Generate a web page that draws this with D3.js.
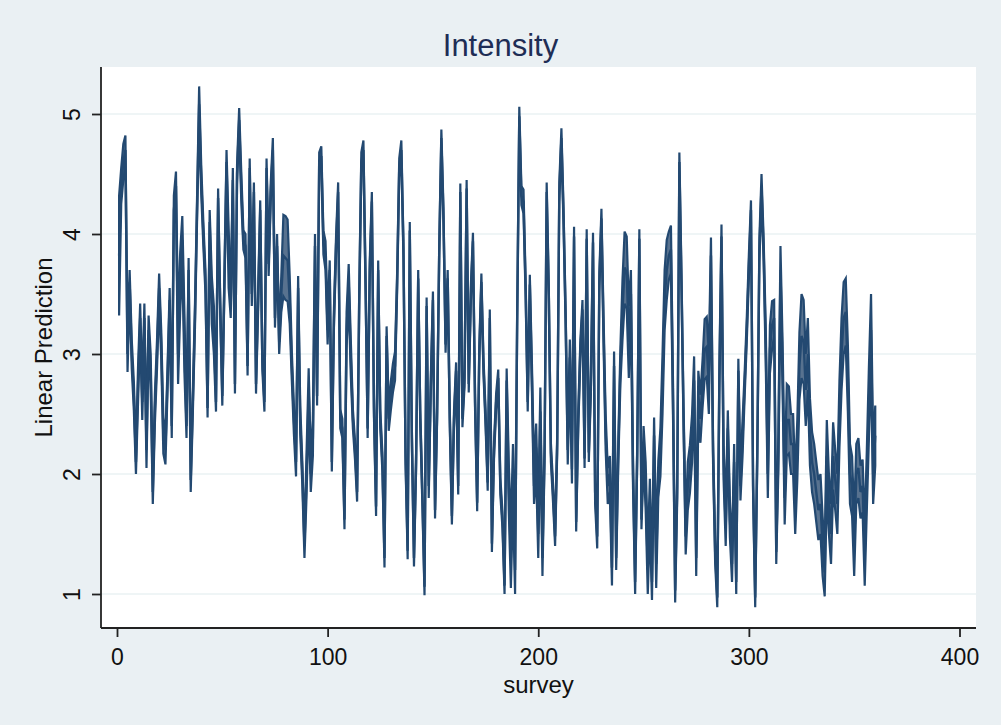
<!DOCTYPE html>
<html>
<head>
<meta charset="utf-8">
<script src="https://cdn.jsdelivr.net/npm/d3@7"></script>
<style>
  html, body { margin: 0; padding: 0; background: #eaf0f3; }
  svg { display: block; }
  text { font-family: "Liberation Sans", Arial, Helvetica, sans-serif; }
</style>
</head>
<body>
<svg id="chart" width="1001" height="725"></svg>
<script>
// ---- data ----
const chartTitle = "Intensity";
const xTitle = "survey";
const yTitle = "Linear Prediction";
const xTicks = [0, 100, 200, 300, 400];
const yTicks = [1, 2, 3, 4, 5];

// linear prediction for survey = 1 .. 360
const prediction = [
  3.82, 4.4, 4.6, 4.7, 3.0, 3.6, 3.0, 2.65, 2.1, 2.75,
  3.3, 2.6, 3.3, 2.2, 3.2, 2.85, 1.85, 2.55, 3.0, 3.55,
  3.08, 2.32, 2.2, 2.8, 3.45, 2.4, 4.2, 4.4, 3.0, 3.6,
  3.95, 3.1, 2.4, 3.7, 1.95, 2.6, 3.3, 4.2, 5.08, 4.45,
  4.0, 3.6, 2.55, 4.1, 3.45, 3.2, 2.6, 4.3, 3.4, 2.65,
  3.6, 4.6, 3.8, 3.4, 4.45, 2.75, 4.5, 4.95, 4.4, 3.95,
  3.9, 2.9, 4.55, 3.5, 4.35, 2.75, 3.45, 4.2, 2.95, 2.6,
  4.55, 3.75, 4.35, 4.7, 3.3, 3.9, 3.1, 3.5, 3.82, 3.8,
  3.78, 3.45, 2.9, 2.45, 2.1, 3.55, 2.45, 2.0, 1.4, 2.0,
  2.7, 2.0, 2.3, 3.9, 2.65, 4.6, 4.65, 3.93, 3.82, 3.2,
  3.7, 2.1, 3.3, 3.9, 4.35, 2.46, 2.38, 1.62, 3.2, 3.6,
  2.97, 2.46, 2.2, 1.85, 3.45, 4.6, 4.7, 3.6, 2.38, 3.7,
  4.27, 2.55, 1.73, 3.7, 2.46, 2.1, 1.3, 3.15, 2.46, 2.65,
  2.8, 2.9, 3.6, 4.55, 4.7, 3.87, 2.15, 1.36, 4.03, 2.3,
  1.3, 2.1, 3.63, 2.46, 1.8, 1.06, 3.4, 1.9, 2.75, 3.45,
  1.7, 2.52, 3.87, 4.8, 4.15, 3.08, 3.63, 2.46, 1.65, 2.46,
  2.86, 1.9, 4.35, 2.46, 2.8, 4.38, 2.75, 3.5, 3.94, 2.6,
  1.76, 3.0, 3.6, 2.9, 2.46, 1.93, 3.3, 1.42, 2.2, 2.6,
  2.8, 1.9, 1.62, 1.07, 2.78, 1.9, 1.3, 2.0, 1.2, 3.3,
  4.98, 4.32, 4.27, 3.55, 2.6, 3.58, 2.8, 1.9, 2.22, 1.5,
  2.52, 1.3, 2.18, 4.35, 3.5, 2.18, 1.85, 1.48, 2.25, 4.35,
  4.8, 4.15, 3.3, 2.2, 2.97, 2.04, 3.98, 1.6, 2.46, 3.04,
  3.37, 2.13, 3.96, 2.18, 2.75, 3.93, 1.85, 1.48, 3.6, 4.13,
  3.2, 2.35, 1.9, 2.0, 1.22, 2.9, 1.3, 2.18, 2.9, 3.37,
  3.72, 3.68, 3.1, 3.5, 2.0, 1.1, 2.18, 3.96, 1.62, 2.25,
  1.9, 1.2, 1.76, 1.1, 2.32, 1.25, 1.96, 2.18, 2.75, 3.45,
  3.7, 3.82, 3.87, 2.6, 1.03, 1.9, 4.6, 3.6, 2.46, 1.48,
  1.9, 2.04, 2.29, 2.78, 1.3, 2.66, 2.46, 2.75, 3.04, 3.06,
  2.75, 3.82, 2.18, 1.35, 0.97, 2.8, 3.98, 2.1, 1.55, 2.38,
  1.62, 1.25, 2.1, 1.1, 2.86, 1.9, 2.3, 2.75, 3.2, 3.73,
  4.2, 1.9, 0.97, 2.18, 3.87, 4.4, 3.87, 3.08, 2.0, 3.04,
  3.24, 3.3, 1.35, 2.18, 3.7, 2.9, 1.8, 2.45, 2.45, 2.25,
  2.25, 1.75, 2.2, 2.9, 3.15, 3.1, 2.7, 3.0, 2.35, 2.1,
  2.0, 1.85, 1.7, 1.75, 1.4, 1.18, 2.15, 1.75, 1.5, 2.15,
  1.95, 1.75, 2.5, 3.0, 3.3, 3.35, 2.8, 2.0, 1.9, 1.4,
  2.0, 2.05, 1.85, 1.9, 1.32, 1.95, 2.6, 3.2, 2.0, 2.32
];

// half width of the confidence band for each survey
const ciHalf = [
  0.5, 0.15, 0.15, 0.12, 0.15, 0.1, 0.12, 0.12, 0.1, 0.15,
  0.12, 0.15, 0.12, 0.15, 0.12, 0.15, 0.1, 0.12, 0.12, 0.12,
  0.12, 0.15, 0.12, 0.1, 0.1, 0.1, 0.12, 0.12, 0.25, 0.25,
  0.2, 0.25, 0.1, 0.1, 0.1, 0.1, 0.1, 0.1, 0.15, 0.12,
  0.1, 0.1, 0.08, 0.1, 0.2, 0.2, 0.08, 0.08, 0.08, 0.08,
  0.08, 0.1, 0.25, 0.1, 0.1, 0.08, 0.08, 0.1, 0.12, 0.08,
  0.1, 0.08, 0.08, 0.1, 0.08, 0.08, 0.1, 0.08, 0.08, 0.08,
  0.08, 0.1, 0.08, 0.1, 0.08, 0.1, 0.1, 0.15, 0.34, 0.35,
  0.34, 0.2, 0.12, 0.12, 0.12, 0.1, 0.12, 0.1, 0.1, 0.18,
  0.18, 0.15, 0.15, 0.1, 0.08, 0.08, 0.08, 0.1, 0.12, 0.12,
  0.08, 0.08, 0.08, 0.08, 0.08, 0.08, 0.08, 0.08, 0.15, 0.15,
  0.15, 0.08, 0.08, 0.08, 0.08, 0.08, 0.08, 0.08, 0.08, 0.08,
  0.08, 0.08, 0.08, 0.08, 0.08, 0.08, 0.08, 0.08, 0.1, 0.12,
  0.12, 0.12, 0.08, 0.08, 0.08, 0.08, 0.07, 0.07, 0.07, 0.07,
  0.07, 0.07, 0.07, 0.07, 0.07, 0.07, 0.07, 0.1, 0.07, 0.07,
  0.07, 0.07, 0.07, 0.07, 0.07, 0.07, 0.07, 0.07, 0.07, 0.07,
  0.07, 0.07, 0.07, 0.07, 0.07, 0.07, 0.07, 0.07, 0.07, 0.07,
  0.07, 0.07, 0.07, 0.07, 0.07, 0.07, 0.07, 0.07, 0.07, 0.07,
  0.07, 0.07, 0.07, 0.07, 0.1, 0.2, 0.25, 0.25, 0.2, 0.08,
  0.08, 0.08, 0.1, 0.08, 0.08, 0.08, 0.12, 0.15, 0.2, 0.2,
  0.2, 0.15, 0.08, 0.08, 0.08, 0.08, 0.08, 0.08, 0.08, 0.08,
  0.08, 0.08, 0.08, 0.12, 0.15, 0.12, 0.08, 0.08, 0.08, 0.08,
  0.08, 0.08, 0.08, 0.08, 0.08, 0.08, 0.1, 0.1, 0.08, 0.08,
  0.12, 0.15, 0.15, 0.15, 0.15, 0.12, 0.1, 0.1, 0.15, 0.25,
  0.3, 0.3, 0.3, 0.2, 0.12, 0.1, 0.08, 0.08, 0.08, 0.15,
  0.2, 0.2, 0.2, 0.15, 0.15, 0.2, 0.15, 0.2, 0.25, 0.25,
  0.25, 0.2, 0.2, 0.15, 0.1, 0.1, 0.08, 0.08, 0.1, 0.15,
  0.2, 0.2, 0.2, 0.2, 0.15, 0.2, 0.2, 0.2, 0.25, 0.25,
  0.25, 0.15, 0.1, 0.1, 0.08, 0.12, 0.1, 0.15, 0.15, 0.15,
  0.15, 0.15, 0.15, 0.1, 0.1, 0.12, 0.15, 0.1, 0.1, 0.1,
  0.08, 0.08, 0.08, 0.08, 0.1, 0.1, 0.1, 0.15, 0.2, 0.2,
  0.2, 0.15, 0.1, 0.15, 0.2, 0.2, 0.22, 0.3, 0.28, 0.25,
  0.25, 0.25, 0.25, 0.28, 0.35, 0.35, 0.3, 0.3, 0.28, 0.25,
  0.25, 0.25, 0.25, 0.25, 0.25, 0.2, 0.3, 0.25, 0.25, 0.28,
  0.25, 0.25, 0.28, 0.3, 0.3, 0.28, 0.28, 0.25, 0.25, 0.25,
  0.25, 0.25, 0.22, 0.22, 0.25, 0.25, 0.3, 0.3, 0.25, 0.25
];

// ---- drawing ----
const W = 1001, H = 725;
const plot = { left: 101, right: 976, top: 67, bottom: 628 };

const svg = d3.select("#chart");
svg.append("rect").attr("width", W).attr("height", H).attr("fill", "#eaf0f3");
svg.append("rect")
  .attr("x", plot.left).attr("y", plot.top)
  .attr("width", plot.right - plot.left).attr("height", plot.bottom - plot.top)
  .attr("fill", "#ffffff");

const x = d3.scaleLinear().domain([0, 400]).range([117, 959.5]);
const y = d3.scaleLinear().domain([1, 5]).range([594, 114]);

const data = prediction.map((p, i) => ({
  s: i + 1, p: p, lo: p - ciHalf[i], hi: p + ciHalf[i]
}));

// grid lines
svg.append("g").selectAll("line").data(yTicks).join("line")
  .attr("x1", plot.left).attr("x2", plot.right)
  .attr("y1", d => y(d)).attr("y2", d => y(d))
  .attr("stroke", "#eaf2f3").attr("stroke-width", 1.6);

const navy = "#234971";
const band = d3.area().x(d => x(d.s)).y0(d => y(d.lo)).y1(d => y(d.hi));
svg.append("path").datum(data)
  .attr("d", band)
  .attr("fill", "#58728f")
  .attr("stroke", navy).attr("stroke-width", 2.2).attr("stroke-linejoin", "miter");

const line = d3.line().x(d => x(d.s)).y(d => y(d.p));
svg.append("path").datum(data)
  .attr("d", line)
  .attr("fill", "none")
  .attr("stroke", navy).attr("stroke-width", 2.4);

// axes
const axisColor = "#222";
const gx = svg.append("g").attr("transform", `translate(0,${plot.bottom})`)
  .call(d3.axisBottom(x).tickValues(xTicks).tickSize(9).tickPadding(8).tickFormat(d3.format("d")));
const gy = svg.append("g").attr("transform", `translate(${plot.left},0)`)
  .call(d3.axisLeft(y).tickValues(yTicks).tickSize(9).tickPadding(8).tickFormat(d3.format("d")));

gx.select(".domain").attr("d", `M${plot.left},0H${plot.right}`).attr("stroke", axisColor).attr("stroke-width", 1.8);
gy.select(".domain").attr("d", `M0,${plot.top}V${plot.bottom}`).attr("stroke", axisColor).attr("stroke-width", 1.8);
svg.selectAll(".tick line").attr("stroke", axisColor).attr("stroke-width", 1.8);
gx.selectAll(".tick text").attr("font-size", 23).attr("fill", "#111")
  .attr("font-family", "'Liberation Sans', Arial, sans-serif").attr("dy", "0.85em");
gy.selectAll(".tick text")
  .attr("font-size", 23).attr("fill", "#111")
  .attr("font-family", "'Liberation Sans', Arial, sans-serif")
  .attr("text-anchor", "middle")
  .attr("x", null)
  .attr("transform", "translate(-29,0) rotate(-90)")
  .attr("dy", "0.35em");

// titles
svg.append("text")
  .attr("x", W / 2).attr("y", 56)
  .attr("text-anchor", "middle").attr("font-size", 31).attr("fill", "#1e2d55")
  .text(chartTitle);
svg.append("text")
  .attr("x", (plot.left + plot.right) / 2).attr("y", 693)
  .attr("text-anchor", "middle").attr("font-size", 24).attr("fill", "#111")
  .text(xTitle);
svg.append("text")
  .attr("transform", `translate(52,${(plot.top + plot.bottom) / 2}) rotate(-90)`)
  .attr("text-anchor", "middle").attr("font-size", 24).attr("fill", "#111")
  .text(yTitle);
</script>
</body>
</html>
